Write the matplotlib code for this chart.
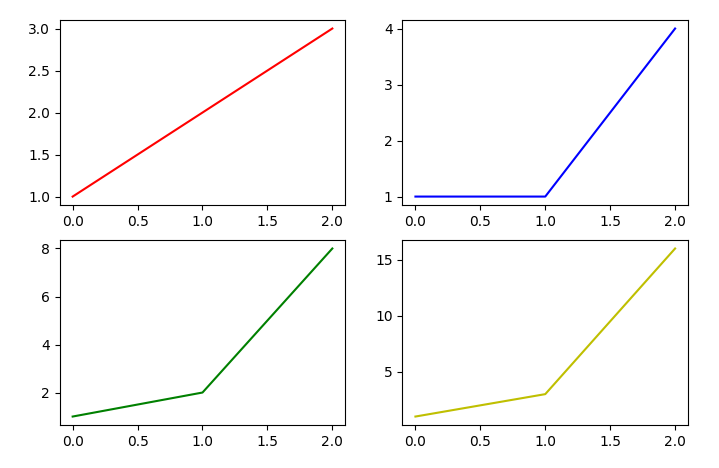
import matplotlib
matplotlib.use("Agg")
import matplotlib.pyplot as plt

x = [0, 1, 2]
y1 = [1, 2, 3]
y2 = [1, 1, 4]
y3 = [1, 2, 8]
y4 = [1, 3, 16]
colors = ['r', 'b', 'g', 'y']

fig, axes = plt.subplots(2, 2, figsize=(7.19, 4.68), dpi=100)
for ax, y, c in zip(axes.flat, [y1, y2, y3, y4], colors):
    ax.plot(x, y, color=c)
fig.subplots_adjust(left=0.083, right=0.957, top=0.957, bottom=0.092, wspace=0.2, hspace=0.19)
fig.savefig("out.png")
